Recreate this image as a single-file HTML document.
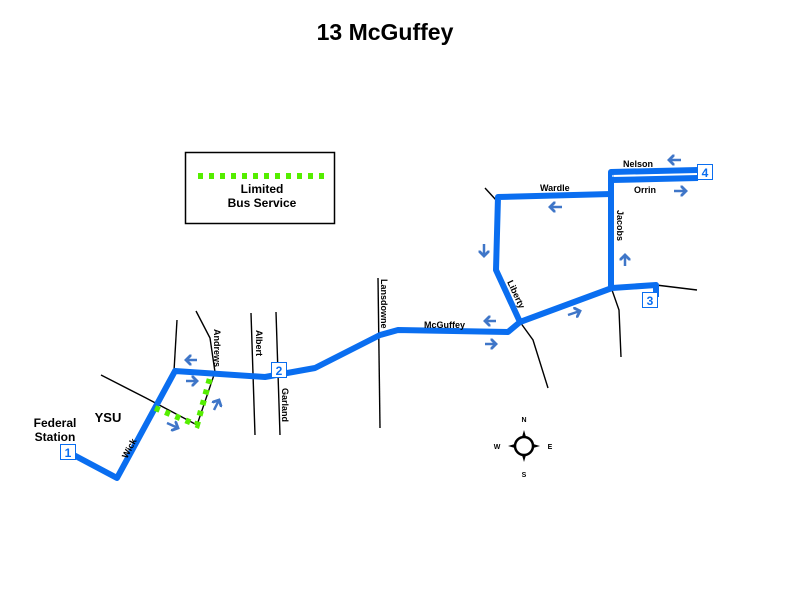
<!DOCTYPE html>
<html><head><meta charset="utf-8"><style>
body{margin:0;background:#fff}
svg{display:block}
text{font-family:"Liberation Sans",Arial,sans-serif;font-weight:bold}
</style></head><body>
<svg width="792" height="612" viewBox="0 0 792 612">
<defs>
<marker id="ah" viewBox="0 0 10 10" refX="5" refY="5" markerWidth="4.5" markerHeight="4.5" orient="auto"><path d="M0,0 L5,5 L0,10" fill="none" stroke="#3f76c8" stroke-width="2.5"/></marker>
</defs>
<text x="385" y="40" font-size="23" text-anchor="middle">13 McGuffey</text>
<rect x="185.5" y="152.5" width="149" height="71" fill="#fff" stroke="#000" stroke-width="1.5"/>
<line x1="198" y1="176" x2="324" y2="176" stroke="#55ee00" stroke-width="6" stroke-dasharray="5,6"/>
<text x="262" y="193" font-size="12" text-anchor="middle">Limited</text>
<text x="262" y="207" font-size="12" text-anchor="middle">Bus Service</text>
<g stroke="#000" stroke-width="1.4" fill="none">
<path d="M101,375 L146,398 L197,425 L215,372 L210,338 L196,311"/>
<path d="M177,320 L174,371"/>
<path d="M251,313 L255,435"/>
<path d="M276,312 L280,435"/>
<path d="M378,278 L380,428"/>
<path d="M485,188 L496,200"/>
<path d="M520,322 L533,340 L548,388"/>
<path d="M612,290 L619,310 L621,357"/>
<path d="M656,285 L697,290"/>
</g>
<g stroke="#0a6ef0" stroke-width="6" fill="none" stroke-linejoin="round">
<path d="M68,452 L117,478 L175,371 L265,377 L315,368 L380,335 L398,330 L508,332 L520,322 L496,270 L498,197 L611,194"/>
<path d="M520,322 L612,288 L656,285 L656,297"/>
<path d="M611,288 L611,172 L698,170"/>
<path d="M612,180 L698,178"/>
</g>
<path d="M612,176 L697,174" stroke="#fff" stroke-width="1.2"/>
<path d="M155,408 L197,425 L210,378" stroke="#55ee00" stroke-width="6" fill="none" stroke-dasharray="5,6"/>
<g stroke="#3f76c8" stroke-width="2.5" fill="none" marker-end="url(#ah)">
<path d="M197,360 L186,360"/><path d="M186,381 L197,381"/>
<path d="M167,423 L178,428"/><path d="M214,410 L219,400"/>
<path d="M496,321 L485,321"/><path d="M485,344 L496,344"/>
<path d="M568,315 L580,311"/><path d="M562,207 L550,207"/>
<path d="M484,244 L484,256"/><path d="M625,266 L625,255"/>
<path d="M681,160 L669,160"/><path d="M674,191 L686,191"/>
</g>
<g font-size="12" fill="#0a6ef0" text-anchor="middle">
<rect x="60.5" y="444.5" width="15" height="15" fill="#fff" stroke="#0a6ef0"/><text x="68" y="457">1</text>
<rect x="271.5" y="362.5" width="15" height="15" fill="#fff" stroke="#0a6ef0"/><text x="279" y="375">2</text>
<rect x="642.5" y="292.5" width="15" height="15" fill="#fff" stroke="#0a6ef0"/><text x="650" y="305">3</text>
<rect x="697.5" y="164.5" width="15" height="15" fill="#fff" stroke="#0a6ef0"/><text x="705" y="177">4</text>
</g>
<text x="55" y="427" font-size="12" text-anchor="middle">Federal</text>
<text x="55" y="441" font-size="12" text-anchor="middle">Station</text>
<text x="108" y="422" font-size="13" text-anchor="middle">YSU</text>
<g font-size="9">
<text transform="translate(127,459) rotate(-62)">Wick</text>
<text transform="translate(214,329) rotate(90)">Andrews</text>
<text transform="translate(256,330) rotate(90)">Albert</text>
<text transform="translate(282,388) rotate(90)">Garland</text>
<text transform="translate(381,279) rotate(90)">Lansdowne</text>
<text x="424" y="328">McGuffey</text>
<text transform="translate(507,282) rotate(65)">Liberty</text>
<text x="540" y="191">Wardle</text>
<text transform="translate(617,210) rotate(90)">Jacobs</text>
<text x="623" y="167">Nelson</text>
<text x="634" y="193">Orrin</text>
</g>
<g>
<circle cx="524" cy="446" r="9" fill="#fff" stroke="#000" stroke-width="2.5"/>
<path d="M524,430 L526,437 L522,437Z M524,462 L526,455 L522,455Z M508,446 L515,444 L515,448Z M540,446 L533,444 L533,448Z" fill="#000"/>
<g font-size="7" font-weight="normal" text-anchor="middle">
<text x="524" y="422">N</text><text x="524" y="477">S</text><text x="497" y="449">W</text><text x="550" y="449">E</text>
</g>
</g>
</svg>
</body></html>
